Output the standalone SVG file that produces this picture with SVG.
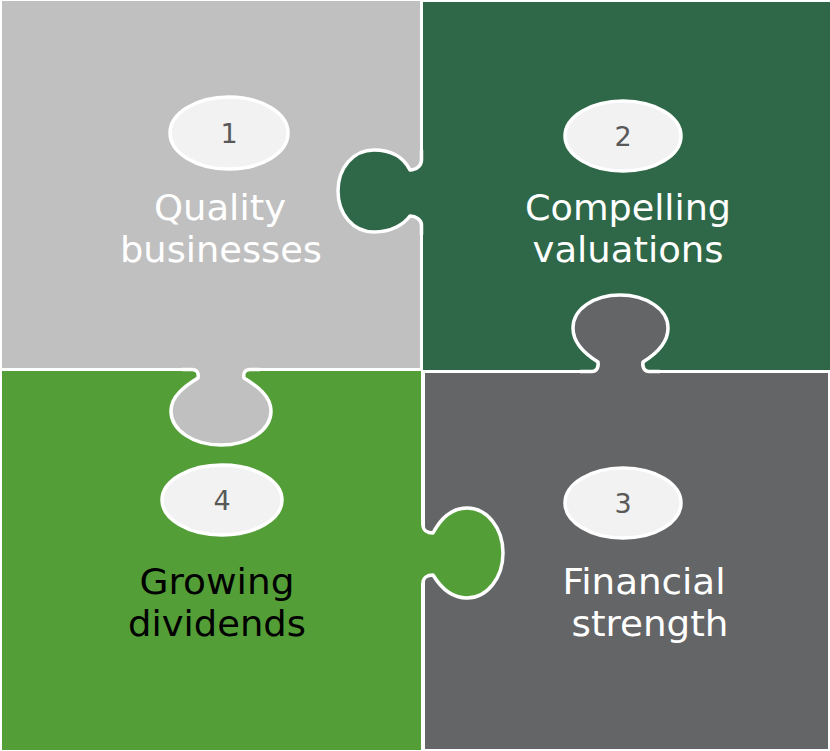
<svg xmlns="http://www.w3.org/2000/svg" width="830" height="751" viewBox="0 0 830 751">
<style>
.outline{fill:none;stroke:#ffffff;stroke-width:3.5;stroke-linejoin:round}
.badge{fill:#f2f2f2;stroke:#ffffff;stroke-width:3.5}
.num{font-family:"DejaVu Sans","Liberation Sans",sans-serif;font-size:27px;fill:#595959;text-anchor:middle}
.lbl{font-family:"DejaVu Sans","Liberation Sans",sans-serif;font-size:36px;text-anchor:middle}
.w{fill:#ffffff}
.k{fill:#000000}
.c1{fill:#c0c0c0}
.c2{fill:#2e6848}
.c3{fill:#646567}
.c4{fill:#549e38}
</style>
<rect width="830" height="751" fill="#ffffff"/>
<g id="piece-1">
  <rect class="c1" x="2" y="1" width="418" height="367"/>
</g>
<g id="piece-2">
  <rect class="c2" x="423" y="2" width="407" height="368"/>
</g>
<g id="piece-3">
  <rect class="c3" x="425" y="373" width="403" height="376"/>
</g>
<g id="piece-4">
  <rect class="c4" x="2" y="371" width="419" height="379"/>
</g>
<g id="connectors">
  <path class="c2" d="M 425,160 L 421.5,160 C 421.5,166 416,170 410,170 C 404,158 392,150 374,150 C 353,150 338,168 338,191 C 338,214 353,232 374,232 C 392,232 404,224 410,216 C 416,216 421.5,220 421.5,225 L 425,225 Z"/>
  <path class="outline" d="M 421.5,150 L 421.5,160 C 421.5,166 416,170 410,170 C 404,158 392,150 374,150 C 353,150 338,168 338,191 C 338,214 353,232 374,232 C 392,232 404,224 410,216 C 416,216 421.5,220 421.5,225 L 421.5,235"/>
  <path class="c3" d="M 592,376 L 592,371.5 C 596,371.5 599,368 598,362 C 585,354 573,343 573,328 C 573,309 594,295 620,295 C 646,295 668,309 668,328 C 668,343 656,354 643,362 C 642,368 645,371.5 649,371.5 L 649,376 Z"/>
  <path class="outline" d="M 580,371.5 L 592,371.5 C 596,371.5 599,368 598,362 C 585,354 573,343 573,328 C 573,309 594,295 620,295 C 646,295 668,309 668,328 C 668,343 656,354 643,362 C 642,368 645,371.5 649,371.5 L 660,371.5"/>
  <path class="c1" d="M 192,366 L 192,369.5 C 197,369.5 199,373 198,378 C 185,386 171,396 171,411 C 171,430 193,445 221,445 C 249,445 271,430 271,411 C 271,396 257,386 244,378 C 243,373 245,369.5 250,369.5 L 250,366 Z"/>
  <path class="outline" d="M 182,369.5 L 192,369.5 C 197,369.5 199,373 198,378 C 185,386 171,396 171,411 C 171,430 193,445 221,445 C 249,445 271,430 271,411 C 271,396 257,386 244,378 C 243,373 245,369.5 250,369.5 L 260,369.5"/>
  <path class="c4" d="M 419,525 L 423,525 C 423,530 427,533 433,533 C 441,518 452,508 467,508 C 487,508 503,528 503,553 C 503,578 487,598 467,598 C 452,598 441,588 433,575 C 427,575 423,578 423,583 L 419,583 Z"/>
  <path class="outline" d="M 423,515 L 423,525 C 423,530 427,533 433,533 C 441,518 452,508 467,508 C 487,508 503,528 503,553 C 503,578 487,598 467,598 C 452,598 441,588 433,575 C 427,575 423,578 423,583 L 423,593"/>
</g>
<g id="node-1">
  <ellipse class="badge" cx="229" cy="133" rx="59" ry="36"/>
  <text class="num" x="229" y="143">1</text>
  <text class="lbl w" x="220" y="220" textLength="132" lengthAdjust="spacingAndGlyphs">Quality</text>
  <text class="lbl w" x="221" y="262" textLength="202" lengthAdjust="spacingAndGlyphs">businesses</text>
</g>
<g id="node-2">
  <ellipse class="badge" cx="623" cy="136" rx="58" ry="35"/>
  <text class="num" x="623" y="146">2</text>
  <text class="lbl w" x="628" y="220" textLength="206" lengthAdjust="spacingAndGlyphs">Compelling</text>
  <text class="lbl w" x="628" y="262" textLength="191" lengthAdjust="spacingAndGlyphs">valuations</text>
</g>
<g id="node-3">
  <ellipse class="badge" cx="623" cy="503" rx="58" ry="35"/>
  <text class="num" x="623" y="513">3</text>
  <text class="lbl w" x="644" y="594" textLength="163" lengthAdjust="spacingAndGlyphs">Financial</text>
  <text class="lbl w" x="650" y="636" textLength="157" lengthAdjust="spacingAndGlyphs">strength</text>
</g>
<g id="node-4">
  <ellipse class="badge" cx="222" cy="500" rx="60" ry="35"/>
  <text class="num" x="222" y="510">4</text>
  <text class="lbl k" x="217" y="594" textLength="155" lengthAdjust="spacingAndGlyphs">Growing</text>
  <text class="lbl k" x="217" y="636" textLength="178" lengthAdjust="spacingAndGlyphs">dividends</text>
</g>
</svg>
